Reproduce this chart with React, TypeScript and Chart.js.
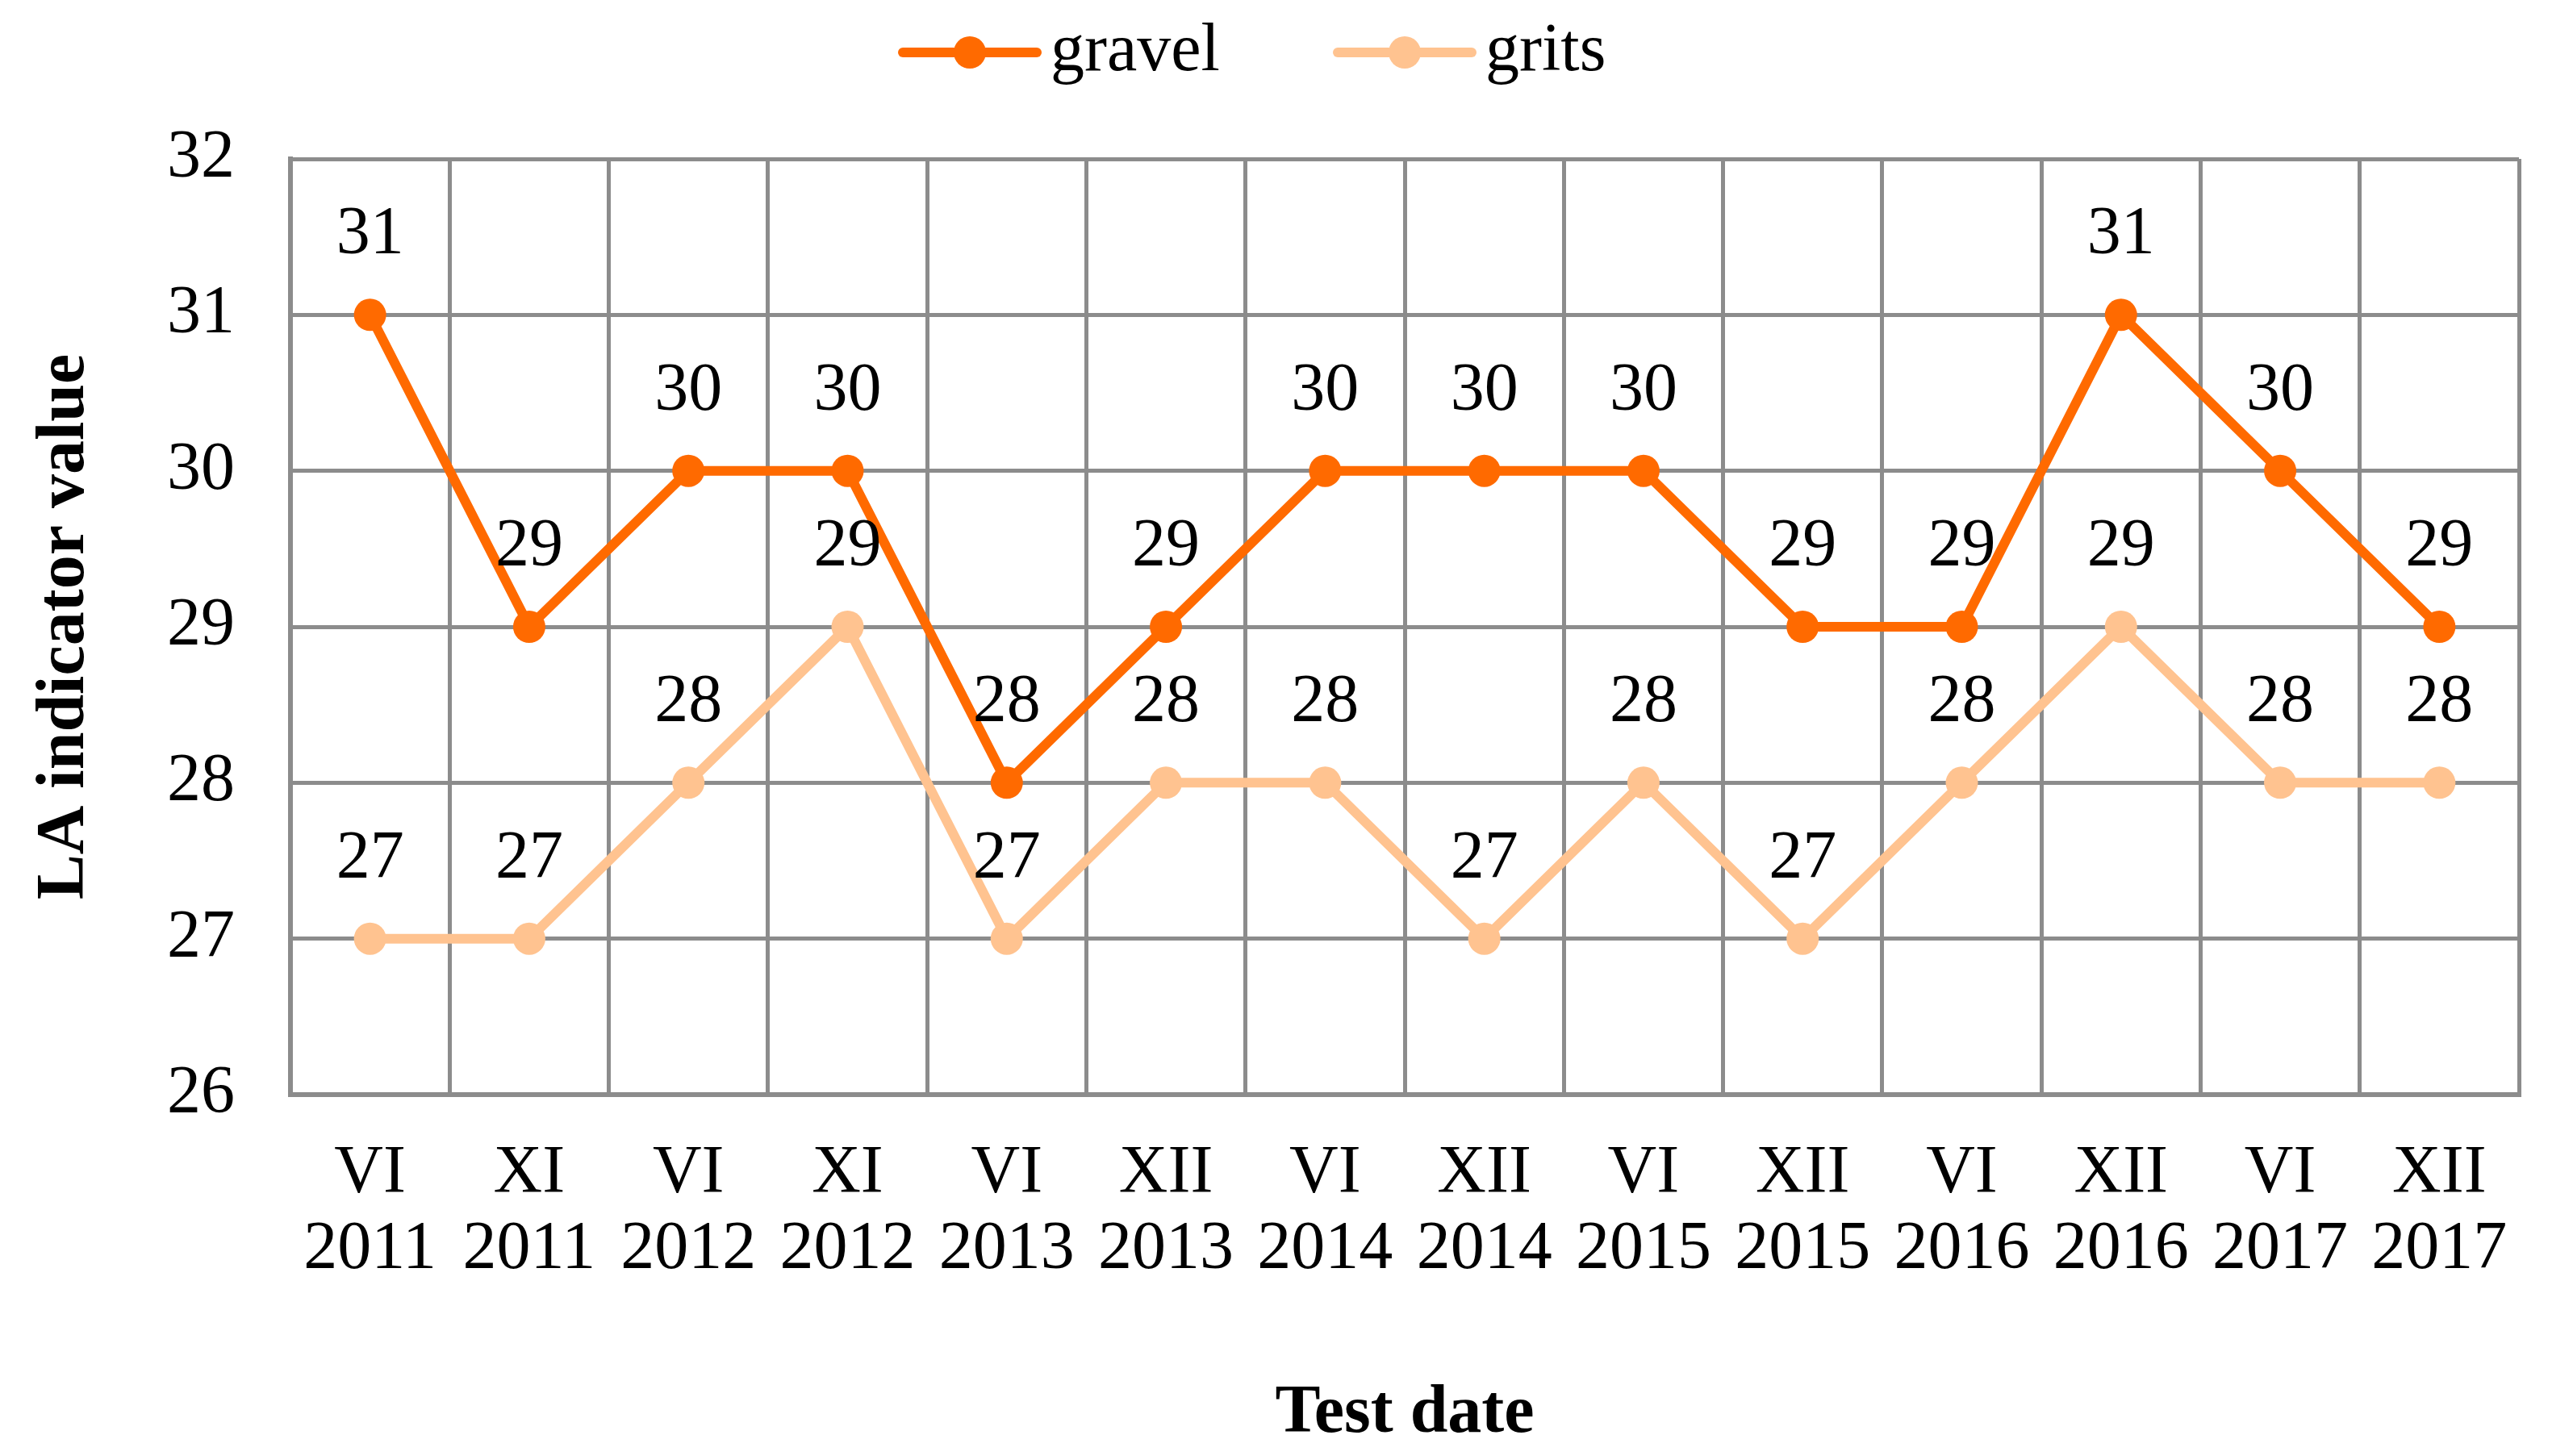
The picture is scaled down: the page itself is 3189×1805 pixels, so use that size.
import React, { useEffect, useRef } from 'react';
import { Chart, registerables } from 'chart.js';

Chart.register(...registerables);

const months = ['VI', 'XI', 'VI', 'XI', 'VI', 'XII', 'VI', 'XII', 'VI', 'XII', 'VI', 'XII', 'VI', 'XII'];
const years = ['2011', '2011', '2012', '2012', '2013', '2013', '2014', '2014', '2015', '2015', '2016', '2016', '2017', '2017'];
const gravel = [31, 29, 30, 30, 28, 29, 30, 30, 30, 29, 29, 31, 30, 29];
const grits = [27, 27, 28, 29, 27, 28, 28, 27, 28, 27, 28, 29, 28, 28];
const yMin = 26;
const yMax = 32;
const seriesNames = ['gravel', 'grits'];
const seriesColors = ['#FF6A00', '#FFC390'];

const FONT = '"Liberation Serif", "Times New Roman", serif';
const FS = 84;

const dataLabelPlugin = {
  id: 'dataLabels',
  afterDatasetsDraw(chart: any) {
    const ctx = chart.ctx;
    ctx.save();
    ctx.font = `${FS}px ${FONT}`;
    ctx.fillStyle = '#000';
    ctx.textAlign = 'center';
    ctx.textBaseline = 'middle';
    chart.data.datasets.forEach((ds: any, i: number) => {
      const meta = chart.getDatasetMeta(i);
      meta.data.forEach((el: any, j: number) => {
        ctx.fillText(String(ds.data[j]), el.x, el.y - 98);
      });
    });
    ctx.restore();
  },
};

const legendPlugin = {
  id: 'customLegend',
  afterDraw(chart: any) {
    const ctx = chart.ctx;
    const items = [
      { x: 1119, name: seriesNames[0], color: seriesColors[0] },
      { x: 1658, name: seriesNames[1], color: seriesColors[1] },
    ];
    const y = 65;
    ctx.save();
    items.forEach((it) => {
      ctx.strokeStyle = it.color;
      ctx.lineWidth = 12;
      ctx.lineCap = 'round';
      ctx.beginPath();
      ctx.moveTo(it.x, y);
      ctx.lineTo(it.x + 166, y);
      ctx.stroke();
      ctx.fillStyle = it.color;
      ctx.beginPath();
      ctx.arc(it.x + 83, y, 20, 0, Math.PI * 2);
      ctx.fill();
      ctx.fillStyle = '#000';
      ctx.font = `${FS}px ${FONT}`;
      ctx.textAlign = 'left';
      ctx.textBaseline = 'middle';
      ctx.fillText(it.name, it.x + 183, y);
    });
    ctx.restore();
  },
};

export default function App() {
  const ref = useRef<HTMLCanvasElement | null>(null);
  useEffect(() => {
    document.body.style.margin = '0';
    if (!ref.current) return;
    const labels = months.map((m, i) => [m, years[i]]);
    const chart = new Chart(ref.current, {
      type: 'line',
      data: {
        labels,
        datasets: [
          {
            label: seriesNames[0],
            data: gravel,
            borderColor: seriesColors[0],
            backgroundColor: seriesColors[0],
            borderWidth: 12,
            pointRadius: 20,
            pointBorderWidth: 0,
            pointBackgroundColor: seriesColors[0],
            tension: 0,
          },
          {
            label: seriesNames[1],
            data: grits,
            borderColor: seriesColors[1],
            backgroundColor: seriesColors[1],
            borderWidth: 12,
            pointRadius: 20,
            pointBorderWidth: 0,
            pointBackgroundColor: seriesColors[1],
            tension: 0,
          },
        ],
      },
      options: {
        responsive: false,
        animation: false,
        devicePixelRatio: 1,
        layout: { padding: { top: 197, right: 67, left: 0, bottom: 0 } },
        plugins: {
          legend: { display: false },
          tooltip: { enabled: false },
        },
        scales: {
          x: {
            type: 'category',
            offset: true,
            grid: { offset: true, color: '#8C8C8C', lineWidth: 5, drawTicks: false },
            border: { color: '#8C8C8C', width: 6 },
            ticks: {
              color: '#000',
              padding: 52,
              maxRotation: 0,
              autoSkip: false,
              font: { family: FONT, size: FS, lineHeight: 1.12 },
            },
            title: {
              display: true,
              text: 'Test date',
              color: '#000',
              padding: { top: 0, bottom: 5 },
              font: { family: FONT, size: FS, weight: 'bold', lineHeight: 1.12 },
            },
            afterFit: (s: any) => {
              s.height = 448;
            },
          },
          y: {
            min: yMin,
            max: yMax,
            grid: { color: '#8C8C8C', lineWidth: 5, drawTicks: false },
            border: { color: '#8C8C8C', width: 6 },
            ticks: {
              stepSize: 1,
              color: '#000',
              padding: 69,
              font: { family: FONT, size: FS },
            },
            title: {
              display: true,
              text: 'LA indicator value',
              color: '#000',
              padding: { top: 34, bottom: 0 },
              font: { family: FONT, size: FS, weight: 'bold', lineHeight: 1.12 },
            },
            afterFit: (s: any) => {
              s.width = 360;
            },
          },
        },
      },
      plugins: [dataLabelPlugin, legendPlugin],
    } as any);
    return () => chart.destroy();
  }, []);
  return (
    <div style={{ width: 3189, height: 1805 }}>
      <canvas ref={ref} width={3189} height={1805} style={{ width: 3189, height: 1805, display: 'block' }} />
    </div>
  );
}
